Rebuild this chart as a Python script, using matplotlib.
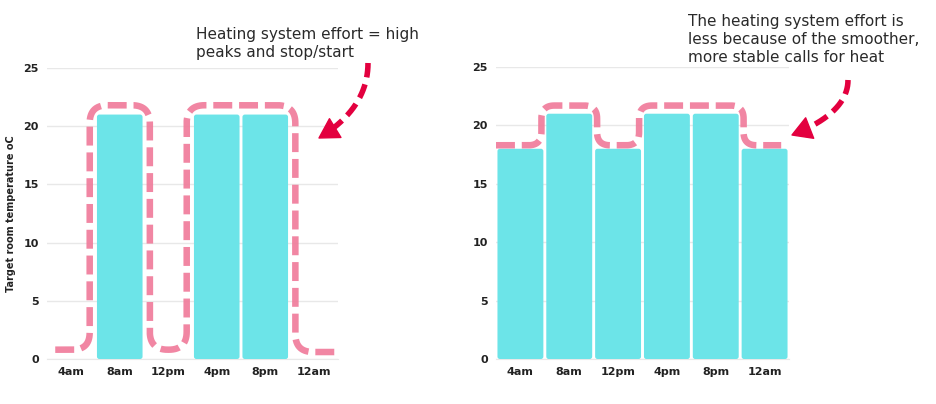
import numpy as np
import matplotlib
matplotlib.use("Agg")
import matplotlib.pyplot as plt
from matplotlib.patches import FancyBboxPatch, Polygon
from matplotlib.lines import Line2D

times = ["4am", "8am", "12pm", "4pm", "8pm", "12am"]
temps_left = [0, 21, 0, 21, 21, 0]
temps_right = [18, 21, 18, 21, 21, 18]
# dashed "effort" outline levels drawn over the bars
effort_left = [0.8, 21.8, 0.8, 21.8, 21.8, 0.6]
effort_right = [18.3, 21.7, 18.3, 21.7, 21.7, 18.3]
yticks = [0, 5, 10, 15, 20, 25]

note_left = "Heating system effort = high\npeaks and stop/start"
note_right = "The heating system effort is\nless because of the smoother,\nmore stable calls for heat"

W, H = 936, 404
BAR = "#6ce4e8"
PINK = "#f07c9b"
RED = "#e3003f"
GRID = "#e8e8e8"
TXT = "#222222"


def round_corners(P, r):
    out = [P[0]]
    for i in range(1, len(P) - 1):
        A, B, C = P[i - 1], P[i], P[i + 1]
        la = np.hypot(*(A - B))
        lc = np.hypot(*(C - B))
        rr = min(r, la / 2, lc / 2)
        s = B + (A - B) / la * rr
        e = B + (C - B) / lc * rr
        t = np.linspace(0, 1, 16)[:, None]
        out.extend((1 - t) ** 2 * s + 2 * (1 - t) * t * B + t ** 2 * e)
    out.append(P[-1])
    return np.array(out)


def effort_line(ax, levels, shift, r_px, x0, x1):
    pts = [(x0, levels[0])]
    for i in range(len(levels) - 1):
        if levels[i + 1] == levels[i]:
            continue
        xv = i + 0.5 + (-shift if levels[i + 1] > levels[i] else shift)
        pts.append((xv, levels[i]))
        pts.append((xv, levels[i + 1]))
    pts.append((x1, levels[-1]))
    pix = ax.transData.transform(np.array(pts, dtype=float))
    pix = round_corners(pix, r_px)
    dat = ax.transData.inverted().transform(pix)
    ax.plot(dat[:, 0], dat[:, 1], color=PINK, lw=4.7, alpha=0.92,
            dashes=(2.9, 1.05), solid_capstyle="butt", zorder=4)


def curved_arrow(fig, start, ctrl, tip, head_len=19, head_w=22):
    # quadratic bezier in figure pixels (y measured from top)
    P0, C, P2 = [np.array([x, H - y], float) for x, y in (start, ctrl, tip)]
    t = np.linspace(0, 1, 200)[:, None]
    curve = (1 - t) ** 2 * P0 + 2 * (1 - t) * t * C + t ** 2 * P2
    d = (P2 - C) / np.hypot(*(P2 - C))
    base = P2 - d * head_len
    keep = np.hypot(*(curve - P2).T) >= head_len - 2
    shaft = curve[keep]
    fr = shaft / [W, H]
    fig.add_artist(Line2D(fr[:, 0], fr[:, 1], color=RED, lw=4.0,
                          linestyle=(0, (2.6, 1.3)), dash_capstyle="butt",
                          transform=fig.transFigure))
    n = np.array([-d[1], d[0]])
    head = np.array([P2, base + n * head_w / 2, base - n * head_w / 2]) / [W, H]
    fig.add_artist(Polygon(head, closed=True, fc=RED, ec=RED, lw=1,
                           joinstyle="round", transform=fig.transFigure))


def draw_panel(ax, temps, ylabel=None):
    ax.set_xlim(-0.5, len(times) - 0.5)
    ax.set_ylim(0, 25)
    aspect = (ax.bbox.width / 6.0) / (ax.bbox.height / 25.0)
    for i, v in enumerate(temps):
        if v <= 0:
            continue
        p = FancyBboxPatch((i - 0.47, 0), 0.94, v,
                           boxstyle="round,pad=0,rounding_size=0.05",
                           mutation_aspect=aspect, fc=BAR, ec="none", zorder=3)
        ax.add_patch(p)
    ax.set_yticks(yticks)
    ax.set_xticks(range(len(times)))
    ax.set_xticklabels(times)
    ax.grid(axis="y", color=GRID, lw=1)
    ax.set_axisbelow(True)
    for s in ["top", "right", "left"]:
        ax.spines[s].set_visible(False)
    ax.spines["bottom"].set_color(GRID)
    ax.tick_params(length=0, labelsize=8, pad=6, colors=TXT)
    for lab in ax.get_xticklabels() + ax.get_yticklabels():
        lab.set_fontweight("bold")
    if ylabel:
        ax.set_ylabel(ylabel, fontsize=7, fontweight="bold", color=TXT, labelpad=5)


fig = plt.figure(figsize=(W / 100, H / 100), dpi=100)
ax1 = fig.add_axes([47 / W, 45 / H, 291 / W, 291 / H])
ax2 = fig.add_axes([496 / W, 45 / H, 293 / W, 292 / H])

draw_panel(ax1, temps_left, "Target room temperature oC")
draw_panel(ax2, temps_right)

effort_line(ax1, effort_left, 0.12, 18, -0.33, 5.5)
effort_line(ax2, effort_right, 0.07, 13, -0.5, 5.34)

fig.text(196 / W, 1 - 27 / H, note_left, fontsize=11, color="#2a2a2a",
         va="top", ha="left", linespacing=1.25)
fig.text(688 / W, 1 - 14 / H, note_right, fontsize=11, color="#2a2a2a",
         va="top", ha="left", linespacing=1.25)

curved_arrow(fig, (368, 63), (368, 108), (319, 138))
curved_arrow(fig, (848, 80), (848, 113), (792, 135))

fig.savefig("out.png", dpi=100)
